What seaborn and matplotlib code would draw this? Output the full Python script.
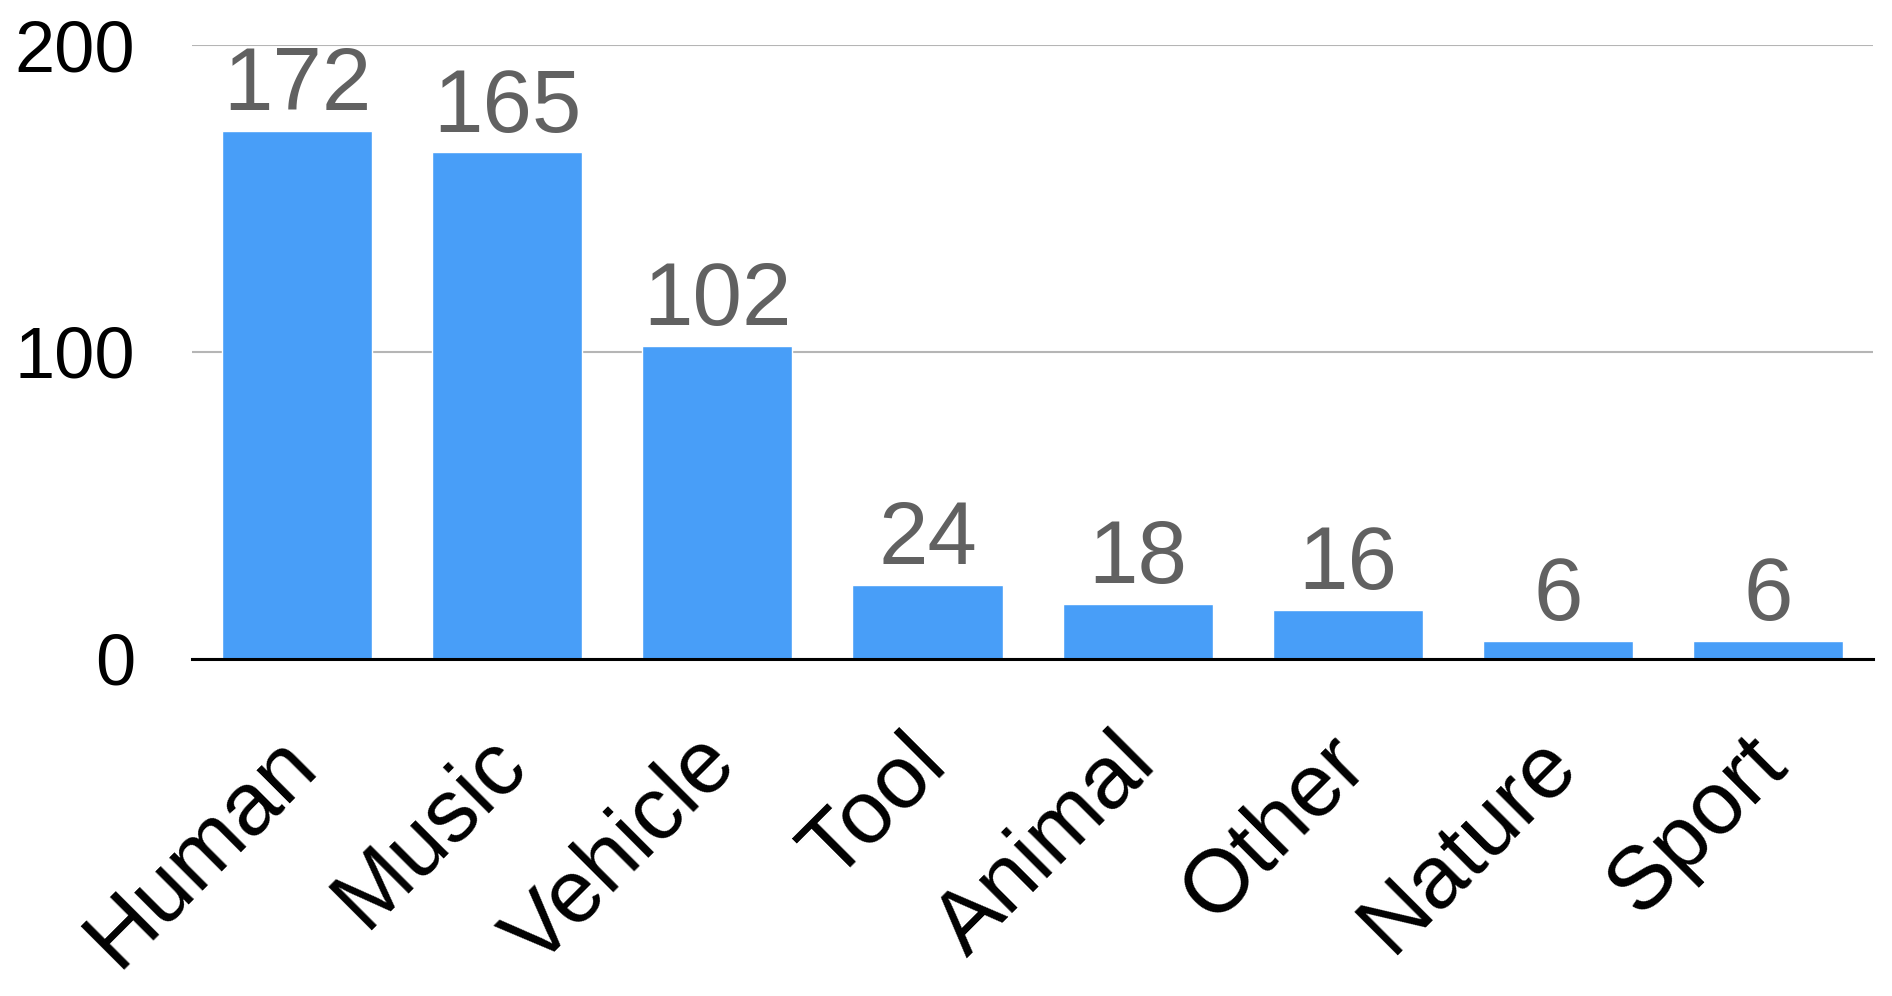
import matplotlib
matplotlib.use("Agg")
import matplotlib.pyplot as plt
import matplotlib.transforms as mtransforms
import seaborn as sns
import pandas as pd

# Chart data
categories = ["Human", "Music", "Vehicle", "Tool", "Animal", "Other", "Nature", "Sport"]
counts = [172, 165, 102, 24, 18, 16, 6, 6]
y_ticks = [0, 100, 200]

df = pd.DataFrame({"category": categories, "count": counts})

sns.set_style("white")
plt.rcParams['font.family'] = ['Liberation Sans', 'DejaVu Sans']

fig = plt.figure(figsize=(18.92, 9.96), dpi=100)
ax = fig.add_axes([0.1015, 0.3384, 0.8885, 0.6164])

sns.barplot(data=df, x="category", y="count", color="#489EF8", saturation=1,
            width=0.714, ax=ax, zorder=3)

ax.set_xlim(-0.5, len(categories) - 0.5)
ax.set_ylim(0, 200)
ax.set_yticks(y_ticks)
ax.set_yticklabels([str(t) for t in y_ticks], fontsize=52, color="black")
ax.yaxis.grid(True, color="#b5b5b5", linewidth=1.5, zorder=0)
ax.set_axisbelow(True)

ax.set_xticks(range(len(categories)))
ax.set_xticklabels(categories, rotation=45, ha="right", rotation_mode="anchor",
                   fontsize=64, color="black")
ax.tick_params(axis="both", length=0)
ax.tick_params(axis="y", pad=41)
ax.tick_params(axis="x", pad=48)

# nudge the rotated category labels a bit to the left
shift = mtransforms.ScaledTranslation(-0.24, 0.05, fig.dpi_scale_trans)
for lbl in ax.get_xticklabels():
    lbl.set_transform(lbl.get_transform() + shift)

for side in ["top", "right", "left"]:
    ax.spines[side].set_visible(False)
ax.spines["bottom"].set_color("black")
ax.spines["bottom"].set_linewidth(2.2)
ax.spines["bottom"].set_zorder(4)

ax.set_xlabel("")
ax.set_ylabel("")

# value labels above bars
for i, v in enumerate(counts):
    ax.annotate(str(v), (i, v), xytext=(0, 15), textcoords="offset points",
                ha="center", va="baseline", fontsize=64, color="#616161",
                annotation_clip=False, zorder=5)

fig.savefig("out.png", dpi=100)
